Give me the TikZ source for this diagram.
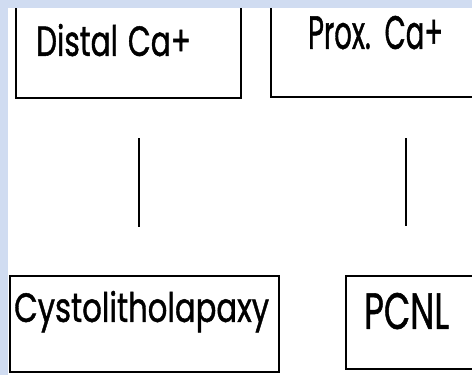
\documentclass[tikz,border=0pt]{standalone}
\usepackage{graphicx}
\usepackage{fontspec}
\newfontfamily\gothic[FakeBold=1.2]{Poppins}
\usepackage{tikz}
\usetikzlibrary{positioning}
\definecolor{SlideBlue}{HTML}{D0DCF1}

\newcommand{\squeeze}[3]{\resizebox{#1}{#2}{\gothic #3}}

\begin{document}
\begin{tikzpicture}[x=1pt, y=-1pt,
                    stage/.style={draw=black, line width=2.2pt, inner ysep=0pt,
                                  align=left, anchor=south west},
                    link/.style={draw=black, line width=2.4pt}]
\useasboundingbox (0,0) rectangle (472,375);
\fill[SlideBlue] (0,0) rectangle (472,375);
\fill[white] (8,8) rectangle (472,375);
\begin{scope}
\clip (8,8) rectangle (472,375);
\node[stage, inner xsep=20pt, text width=185pt, text height=67pt, text depth=42pt]
     (distal) at (15,99) {\squeeze{155pt}{32pt}{Distal Ca+}};
\node[stage, inner xsep=37pt, text width=156pt, text height=60pt, text depth=48pt]
     (prox) at (270,98) {\squeeze{135pt}{33pt}{Prox. Ca+}};
\node[stage, inner xsep=4pt, text width=261pt, text height=46pt, text depth=50pt]
     (cyst) at (9,373) {\squeeze{255pt}{31pt}{Cystolitholapaxy}};
\node[stage, inner xsep=18pt, text width=119pt, text height=53pt, text depth=40pt]
     (pcnl) at (345,370) {\squeeze{85pt}{36pt}{PCNL}};
\coordinate (col1) at (139,0);
\coordinate (col2) at (406,0);
\draw[link, shorten <=39pt, shorten >=48pt] (distal.south -| col1) -- (cyst.north -| col1);
\draw[link, shorten <=40pt, shorten >=49pt] (prox.south -| col2) -- (pcnl.north -| col2);
\end{scope}
\end{tikzpicture}
\end{document}
